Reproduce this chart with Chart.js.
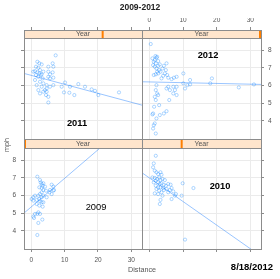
<!DOCTYPE html>
<html>
<head>
<meta charset="utf-8">
<script src="https://cdn.jsdelivr.net/npm/chart.js@4.4.0/dist/chart.umd.min.js"></script>
<style>
body { margin: 0; background: #fff; }
#wrap { position: relative; width: 280px; height: 279px; font-family: "Liberation Sans", Arial, sans-serif; }
canvas { position: absolute; left: 0; top: 0; }
.lbl { position: absolute; white-space: nowrap; line-height: 1; transform: translate(-50%, -50%); color: #000; }
</style>
</head>
<body>
<div id="wrap">
  <canvas id="c2011" width="280" height="279"></canvas>
  <canvas id="c2012" width="280" height="279"></canvas>
  <canvas id="c2009" width="280" height="279"></canvas>
  <canvas id="c2010" width="280" height="279"></canvas>

  <div class="lbl" style="left:140px;top:7px;font-size:8.5px;font-weight:bold;color:#222">2009-2012</div>
  <div class="lbl" style="left:142px;top:270px;font-size:7.2px;color:#555">Distance</div>
  <div class="lbl" style="left:7px;top:145px;font-size:7.2px;color:#555;transform:translate(-50%,-50%) rotate(-90deg)">mph</div>
  <div class="lbl" style="left:252px;top:267px;font-size:9.5px;font-weight:bold">8/18/2012</div>

  <div class="lbl" style="left:77px;top:124px;font-size:9.3px;font-weight:bold">2011</div>
  <div class="lbl" style="left:208px;top:55.5px;font-size:9.3px;font-weight:bold">2012</div>
  <div class="lbl" style="left:96px;top:208px;font-size:9.3px">2009</div>
  <div class="lbl" style="left:220px;top:186.5px;font-size:9.3px;font-weight:bold">2010</div>
</div>
<script>
// values
const years = [2009, 2010, 2011, 2012];
const xTicks = [0, 10, 20, 30];
const yTicks = [4, 5, 6, 7, 8];
const xMin = -2.2, xMax = 33.2;
const yMin = 2.98, yMax = 8.68;

const dist2009 = [1.8,2.6,2.8,3.1,3.4,3.6,2.4,3.1,3.6,4.1,3.1,2.6,2.1,1.1,0.6,0.1,0.6,1.6,2.4,3.1,3.6,4.6,6.1,6.6,5.4,6.1,6.6,6.8,2.6,3.1,3.6,1.6,2.4,3.4,2.1,1.1,1.8,2.6,0.6,0.8,2.1,3.3,1.8,5.6,4.4];
const mph2009 = [7.06,6.87,6.74,6.65,6.55,6.69,6.46,6.42,6.31,6.50,6.18,6.08,5.99,5.99,5.90,5.80,5.71,5.75,5.80,5.90,5.99,5.90,6.61,6.50,6.18,6.08,6.27,6.31,5.67,5.62,5.62,5.52,5.43,5.37,5.05,4.96,4.96,4.96,4.81,4.73,4.45,4.64,3.77,6.31,6.27];

const dist2010 = [1.9,1.3,1.1,1.6,2.1,3.3,2.6,3.6,0.9,1.6,2.3,2.9,3.3,3.9,4.6,1.9,2.6,3.1,3.6,4.3,4.9,5.6,6.3,6.6,6.1,5.1,4.1,3.3,2.6,2.1,2.9,3.6,2.6,3.9,3.3,3.1,1.6,7.1,7.9,7.6,9.6,9.9,13.1,10.6,1.9,1.3,4.3,5.6,6.6];
const mph2010 = [8.24,7.81,7.59,7.40,7.31,7.31,7.21,7.17,7.02,6.99,6.93,7.02,6.87,6.93,6.87,6.84,6.74,6.65,6.69,6.61,6.55,6.65,6.61,6.42,6.31,6.37,6.42,6.46,6.46,6.37,6.27,6.18,6.08,5.99,5.75,5.52,6.12,6.23,6.08,5.99,5.99,6.69,6.42,3.51,6.55,6.74,6.31,6.18,5.80];

const dist2011 = [7.3,1.8,2.4,3.1,1.4,2.1,2.6,1.1,0.6,1.8,2.4,3.1,1.4,2.1,2.8,3.6,5.1,6.4,6.6,5.1,5.6,6.4,5.1,5.6,6.6,3.4,1.1,2.6,3.6,4.6,4.1,4.6,3.6,4.4,5.1,5.1,2.1,2.6,5.6,6.6,9.1,10.1,11.6,14.1,16.1,18.1,19.1,9.8,11.4,12.9,20.1,26.3,4.6,3.1,1.6];
const mph2011 = [7.70,7.34,7.25,7.19,7.06,7.00,6.87,6.81,6.78,6.74,6.68,6.63,6.59,6.49,6.59,6.78,7.06,7.25,7.06,6.78,6.63,6.74,6.49,6.40,6.44,6.40,6.31,6.21,6.12,6.02,5.74,5.65,5.65,5.46,5.36,5.04,5.74,5.55,5.93,6.02,5.93,6.17,5.93,6.08,5.93,5.78,5.70,5.61,5.59,5.46,5.46,5.61,5.83,5.93,6.02];

const dist2012 = [0.4,0.9,1.6,2.1,1.3,1.9,2.6,2.3,1.8,1.1,1.6,2.1,2.6,3.1,2.9,2.3,1.9,1.3,2.6,3.3,3.9,4.3,5.1,4.9,4.6,5.3,4.1,3.6,5.6,6.6,7.3,8.1,10.1,12.1,11.3,8.1,7.1,5.6,5.1,6.1,7.6,7.1,8.1,5.9,2.1,1.9,2.3,1.6,2.6,1.9,2.9,1.4,5.1,4.3,3.1,2.1,1.1,0.9,1.6,1.3,1.1,1.9,18.6,18.1,26.6,31.1,10.1,12.1,10.6];
const mph2012 = [8.34,7.53,7.44,7.57,7.34,7.25,7.38,7.62,7.66,7.15,7.06,6.96,7.11,7.19,6.87,6.78,6.63,6.59,6.68,6.78,6.96,7.11,7.25,6.87,6.68,6.59,6.55,6.40,6.44,6.36,6.44,6.49,6.68,6.31,6.02,5.93,5.93,5.93,5.83,5.74,5.74,5.55,5.46,5.18,6.02,5.74,5.55,5.36,5.46,5.18,4.89,4.80,4.55,4.42,4.33,4.14,4.42,4.37,3.86,3.76,3.57,3.29,6.40,6.12,5.89,6.06,6.12,6.06,5.83];

// fitted lines (lm per panel)
const fitIntercept = [5.36, 6.99, 6.57, 6.20];
const fitSlope = [0.161, -0.133, -0.0506, -0.0042];

const dists = [dist2009, dist2010, dist2011, dist2012];
const mphs = [mph2009, mph2010, mph2011, mph2012];

const tickFont = { family: '"Liberation Sans", Arial, sans-serif', size: 6.5 };

// strip with the shingle marker + full panel box
const stripPlugin = {
  id: 'strip',
  afterDraw(chart, args, opts) {
    const { ctx, chartArea: a } = chart;
    const w = a.right - a.left;
    const top = a.top - opts.h;
    ctx.save();
    ctx.fillStyle = '#ffe5cc';
    ctx.fillRect(a.left, top, w, opts.h);
    const mx = a.left + opts.frac * w;
    ctx.fillStyle = '#ff7f00';
    ctx.fillRect(Math.max(a.left, Math.min(mx - 1, a.right - 2)), top, 2, opts.h);
    ctx.strokeStyle = '#8c8c8c';
    ctx.lineWidth = 1;
    ctx.strokeRect(a.left + 0.5, top + 0.5, w, opts.h);
    ctx.strokeRect(a.left + 0.5, a.top + 0.5, w, a.bottom - a.top);
    ctx.fillStyle = '#555';
    ctx.font = '7px "Liberation Sans", Arial, sans-serif';
    ctx.textAlign = 'center';
    ctx.textBaseline = 'middle';
    ctx.fillText('Year', (a.left + a.right) / 2, top + opts.h / 2 + 0.5);
    ctx.restore();
  }
};

const panels = [
  { id: 'c2011', i: 2, area: [24, 38, 142, 139], xPos: 'top', xLab: false, yPos: 'left', yLab: false, stripH: 8 },
  { id: 'c2012', i: 3, area: [142, 38, 261, 139], xPos: 'top', xLab: true, yPos: 'right', yLab: true, stripH: 8 },
  { id: 'c2009', i: 0, area: [24, 148, 142, 249], xPos: 'bottom', xLab: true, yPos: 'left', yLab: true, stripH: 9 },
  { id: 'c2010', i: 1, area: [142, 148, 261, 249], xPos: 'bottom', xLab: false, yPos: 'right', yLab: false, stripH: 9 }
];

panels.forEach(p => {
  const [l, t, r, b] = p.area;
  const i = p.i;
  const xTL = p.xPos === 'top' ? 11 : 3;
  const xH = p.xPos === 'top' ? (p.xLab ? 20 : 12) : (p.xLab ? 16 : 5);
  const yW = p.yLab ? 18 : 5;
  const pad = {
    left: l - (p.yPos === 'left' ? yW : 0),
    right: 280 - r - (p.yPos === 'right' ? yW : 0),
    top: t - (p.xPos === 'top' ? xH : 0),
    bottom: 279 - b - (p.xPos === 'bottom' ? xH : 0)
  };

  new Chart(document.getElementById(p.id), {
    type: 'scatter',
    data: {
      datasets: [
        {
          data: dists[i].map((x, k) => ({ x: x, y: mphs[i][k] })),
          pointStyle: 'circle',
          pointRadius: 1.6,
          pointHoverRadius: 1.6,
          borderWidth: 0.7,
          borderColor: 'rgba(0,128,255,0.45)',
          backgroundColor: 'rgba(0,0,0,0)'
        },
        {
          data: [xMin, xMax].map(x => ({ x: x, y: fitIntercept[i] + fitSlope[i] * x })),
          showLine: true,
          pointRadius: 0,
          borderWidth: 1,
          borderColor: 'rgba(0,110,255,0.4)'
        }
      ]
    },
    options: {
      responsive: false,
      animation: false,
      events: [],
      layout: { padding: pad },
      plugins: {
        legend: { display: false },
        tooltip: { enabled: false },
        strip: { h: p.stripH, frac: (years[i] - years[0]) / (years[3] - years[0]) }
      },
      scales: {
        x: {
          type: 'linear',
          position: p.xPos,
          min: xMin,
          max: xMax,
          afterBuildTicks: s => { s.ticks = xTicks.map(v => ({ value: v })); },
          afterFit: s => { s.height = xH; },
          border: { display: false },
          grid: { color: '#ebebeb', tickColor: '#8c8c8c', tickLength: xTL },
          ticks: { display: p.xLab, font: tickFont, color: '#555', padding: p.xPos === 'top' ? 3 : 4, maxRotation: 0 }
        },
        y: {
          type: 'linear',
          position: p.yPos,
          min: yMin,
          max: yMax,
          afterBuildTicks: s => { s.ticks = yTicks.map(v => ({ value: v })); },
          afterFit: s => { s.width = yW; },
          border: { display: false },
          grid: { color: '#ebebeb', tickColor: '#8c8c8c', tickLength: 3 },
          ticks: { display: p.yLab, font: tickFont, color: '#555', padding: p.yPos === 'left' ? 5 : 4 }
        }
      }
    },
    plugins: [stripPlugin]
  });
});
</script>
</body>
</html>
